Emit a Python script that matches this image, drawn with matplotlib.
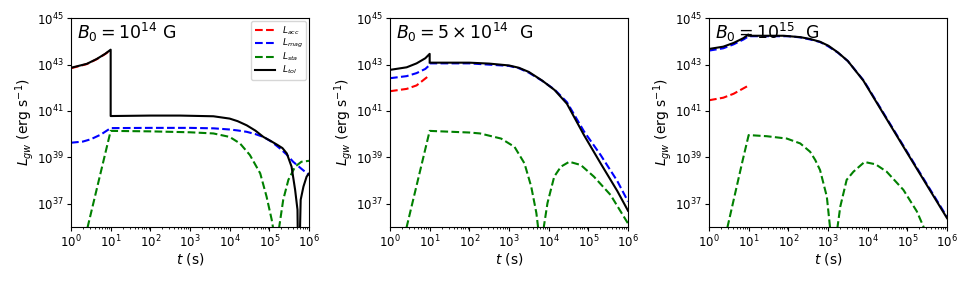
import numpy as np
import matplotlib
matplotlib.use('Agg')
import matplotlib.pyplot as plt
from matplotlib.ticker import NullLocator

# values, as log10(t / s) and log10(L / erg s^-1)
titles = [r'$B_0=10^{14}$ G', r'$B_0=5\times10^{14}$  G', r'$B_0=10^{15}$  G']

# B0 = 1e14 G
acc1_t = [0, 0.4, 0.65, 0.86, 1.0]
acc1_L = [42.84, 43.02, 43.23, 43.45, 43.62]
mag1_t = [0, 0.3, 0.5, 0.75, 1.0, 2.0, 3.0, 3.6, 4.0, 4.2, 4.43, 4.65, 4.85, 5.05, 5.27, 5.45, 5.6, 5.8, 6.0]
mag1_L = [39.63, 39.68, 39.78, 39.98, 40.26, 40.27, 40.27, 40.25, 40.2, 40.16, 40.1, 40.0, 39.88,
          39.68, 39.38, 39.1, 38.81, 38.52, 38.24]
sta1_t = [0.35, 1.0, 2.0, 3.0, 3.59, 4.0, 4.26, 4.51, 4.77, 4.93, 5.06, 5.10, 5.17,
          5.24, 5.35, 5.48, 5.65, 5.81, 6.0]
sta1_L = [35.5, 40.14, 40.12, 40.08, 40.03, 39.88, 39.6, 39.1, 38.31, 37.31, 36.31, 35.9, 33.0,
          35.9, 37.17, 38.03, 38.6, 38.81, 38.85]
tot1_t = [0, 0.4, 0.65, 0.86, 1.0, 1.0, 2.0, 2.75, 3.59, 4.0, 4.2, 4.43, 4.65, 4.85, 5.02, 5.19,
          5.33, 5.44, 5.56, 5.65, 5.71, 5.735, 5.79, 5.86, 5.94, 6.0]
tot1_L = [42.86, 43.03, 43.24, 43.46, 43.64, 40.78, 40.8, 40.8, 40.77, 40.67, 40.56, 40.38, 40.15,
          39.88, 39.72, 39.55, 39.4, 39.17, 38.6, 37.6, 36.74, 33.0, 37.17, 37.74, 38.17, 38.3]

# B0 = 5e14 G
acc2_t = [0, 0.42, 0.67, 0.93, 1.0]
acc2_L = [41.85, 41.95, 42.1, 42.45, 42.55]
mag2_t = [0, 0.42, 0.67, 0.89, 1.0, 1.0, 2.0, 3.0, 3.25, 3.5, 3.835, 4.15, 4.46, 4.89, 5.31, 5.73, 6.0]
mag2_L = [42.41, 42.5, 42.63, 42.81, 42.98, 43.05, 43.05, 42.94, 42.84, 42.65, 42.3, 41.92, 41.38,
          40.12, 39.1, 37.98, 37.1]
sta2_t = [0.35, 1.0, 2.0, 2.27, 2.8, 3.14, 3.39, 3.56, 3.69, 3.73, 3.80, 3.88, 3.97, 4.14, 4.31,
          4.52, 4.81, 5.14, 5.56, 6.0]
sta2_L = [35.5, 40.14, 40.07, 40.03, 39.81, 39.45, 38.74, 37.74, 36.6, 36.03, 33.0, 36.03, 37.03,
          38.17, 38.6, 38.81, 38.67, 38.17, 37.38, 36.15]
tot2_t = [0, 0.42, 0.67, 0.89, 1.0, 1.0, 2.0, 2.5, 3.0, 3.25, 3.5, 3.835, 4.15, 4.46, 4.89, 5.31,
          5.73, 6.0]
tot2_L = [42.77, 42.88, 43.05, 43.27, 43.46, 43.08, 43.08, 43.04, 42.96, 42.86, 42.68, 42.31, 41.9,
          41.31, 39.96, 38.74, 37.55, 36.7]

# B0 = 1e15 G
acc3_t = [0, 0.36, 0.62, 0.95, 1.0]
acc3_L = [41.46, 41.57, 41.74, 42.05, 42.1]
mag3_t = [0, 0.36, 0.62, 0.87, 1.0, 2.0, 2.3, 2.55, 2.8, 3.0, 3.25, 3.5, 3.89, 4.0, 5.0, 6.0]
mag3_L = [43.6, 43.7, 43.87, 44.08, 44.22, 44.22, 44.17, 44.08, 43.97, 43.79, 43.51, 43.15, 42.33,
          42.03, 39.22, 36.43]
sta3_t = [0.40, 0.85, 1.0, 1.46, 1.96, 2.3, 2.55, 2.68, 2.8, 2.97, 3.05, 3.14, 3.24, 3.31, 3.47,
          3.64, 3.92, 4.2, 4.48, 4.9, 5.24, 5.41, 5.5]
sta3_L = [35.5, 38.88, 39.96, 39.91, 39.81, 39.6, 39.24, 38.88, 38.45, 37.31, 36.0, 33.0, 36.0,
          36.88, 38.03, 38.38, 38.8, 38.7, 38.38, 37.6, 36.67, 36.0, 35.6]
tot3_t = [0, 0.36, 0.62, 0.87, 0.99, 1.0, 1.88, 2.3, 2.55, 2.8, 3.01, 3.25, 3.5, 3.89, 4.0, 5.0, 6.0]
tot3_L = [43.67, 43.77, 43.93, 44.14, 44.29, 44.24, 44.24, 44.18, 44.1, 43.98, 43.81, 43.52, 43.15,
          42.31, 42.0, 39.18, 36.38]

panels = [
    (acc1_t, acc1_L, mag1_t, mag1_L, sta1_t, sta1_L, tot1_t, tot1_L),
    (acc2_t, acc2_L, mag2_t, mag2_L, sta2_t, sta2_L, tot2_t, tot2_L),
    (acc3_t, acc3_L, mag3_t, mag3_L, sta3_t, sta3_L, tot3_t, tot3_L),
]

fig = plt.figure(figsize=(9.69, 2.83), dpi=100)
lefts = [71 / 969, 390 / 969, 709 / 969]

for i, (at, aL, mt, mL, st, sL, tt, tL) in enumerate(panels):
    ax = fig.add_axes([lefts[i], 0.198, 238 / 969, 0.738])
    ax.plot(10 ** np.array(at), 10 ** np.array(aL), 'r--', lw=1.5, label=r'$L_{acc}$')
    ax.plot(10 ** np.array(mt), 10 ** np.array(mL), 'b--', lw=1.5, label=r'$L_{mag}$')
    ax.plot(10 ** np.array(st), 10 ** np.array(sL), 'g--', lw=1.5, label=r'$L_{sta}$')
    ax.plot(10 ** np.array(tt), 10 ** np.array(tL), 'k-', lw=1.5, label=r'$L_{tol}$')
    ax.set_xscale('log')
    ax.set_yscale('log')
    ax.set_xlim(1, 1e6)
    ax.set_ylim(1e36, 1e45)
    ax.set_xticks([10.0 ** k for k in range(7)])
    ax.set_yticks([1e37, 1e39, 1e41, 1e43, 1e45])
    ax.yaxis.set_minor_locator(NullLocator())
    ax.tick_params(which='major', labelsize=8.5, length=3, pad=2)
    ax.tick_params(which='minor', length=1.5)
    ax.set_xlabel(r'$t$ (s)', fontsize=10, labelpad=0)
    ax.set_ylabel(r'$L_{gw}$ (erg s$^{-1}$)', fontsize=10, labelpad=0.5)
    ax.text(0.025, 0.985, titles[i], transform=ax.transAxes, fontsize=12.5,
            ha='left', va='top')
    if i == 0:
        ax.legend(loc='upper right', fontsize=6.5, labelspacing=0.05,
                  borderaxespad=0.3, handlelength=2.2)

plt.savefig('out.png', dpi=100)
